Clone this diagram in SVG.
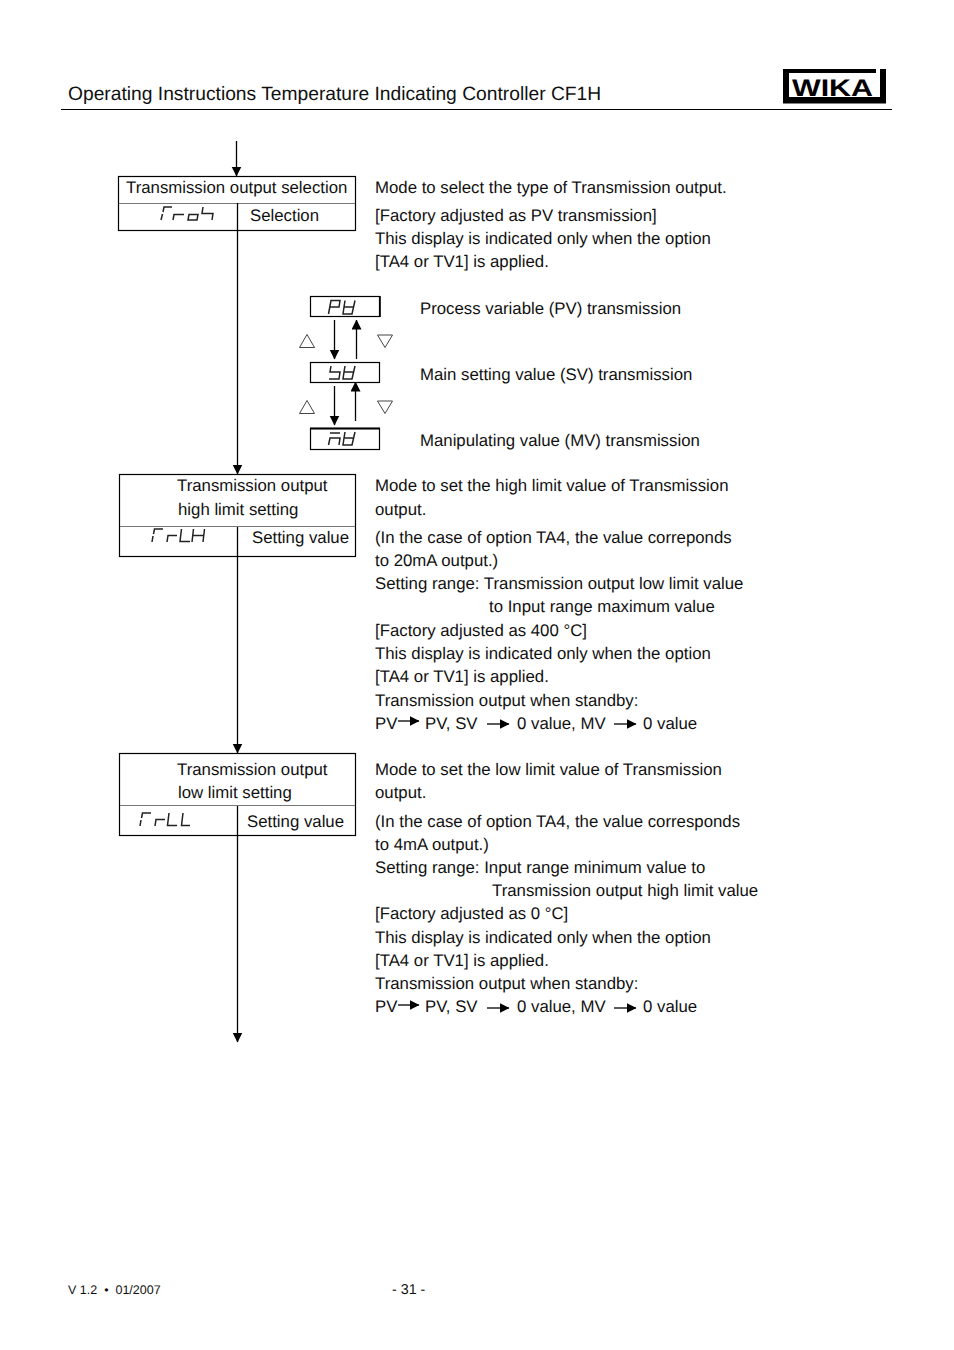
<svg xmlns="http://www.w3.org/2000/svg" width="954" height="1350" viewBox="0 0 954 1350">
<style>
text{font-family:"Liberation Sans",Arial,sans-serif;font-size:16.8px;fill:#111;text-rendering:geometricPrecision;white-space:pre}
.t{font-size:19.24px}
.s{font-size:12.500px}
.box{fill:none;stroke:#000;stroke-width:1.2}
.div{fill:none;stroke:#777;stroke-width:1.2}
.ln{fill:none;stroke:#000;stroke-width:1.3}
.seg{fill:none;stroke:#222;stroke-width:1.5}
.tri{fill:#fff;stroke:#444;stroke-width:1}
</style>
<defs>
<marker id="a" markerUnits="userSpaceOnUse" markerWidth="10" markerHeight="11" refX="9.500" refY="5" orient="auto"><path d="M0 0L10 5L0 10Z" fill="#000"/></marker>
</defs>
<rect width="954" height="1350" fill="#fff"/>
<g id="header">
<text class="t" x="68" y="100">Operating Instructions Temperature Indicating Controller CF1H</text>
<path d="M61 109.500H892" stroke="#000" stroke-width="1" fill="none"/>
</g>
<g id="logo">
<path fill="#000" fill-rule="evenodd" d="M783 69H886V103.500H783ZM789 73V97H876V73Z"/>
<rect x="876" y="69" width="4" height="28" fill="#fff"/>
<text x="792" y="96" style="font-size:24px;font-weight:bold;fill:#000" textLength="81" lengthAdjust="spacingAndGlyphs">WIKA</text>
</g>
<g id="connectors">
<path class="ln" marker-end="url(#a)" d="M236.500 141V176"/>
<path class="ln" marker-end="url(#a)" d="M237.500 231V474"/>
<path class="ln" marker-end="url(#a)" d="M237.500 557V753"/>
<path class="ln" marker-end="url(#a)" d="M237.500 836V1042"/>
<path class="ln" marker-end="url(#a)" d="M334.500 320V359"/>
<path class="ln" marker-end="url(#a)" d="M356.500 359V320"/>
<path class="ln" marker-end="url(#a)" d="M334.500 386V425"/>
<path class="ln" marker-end="url(#a)" d="M355.500 421V382"/>
<path class="ln" marker-end="url(#a)" d="M398 721H419"/>
<path class="ln" marker-end="url(#a)" d="M487 724H509"/>
<path class="ln" marker-end="url(#a)" d="M614 724H636"/>
<path class="ln" marker-end="url(#a)" d="M398 1005H419"/>
<path class="ln" marker-end="url(#a)" d="M487 1008H509"/>
<path class="ln" marker-end="url(#a)" d="M614 1008H636"/>
</g>
<g id="node-selection">
<rect class="box" x="118.500" y="176.500" width="237" height="54"/>
<path class="div" d="M119 203.500H355"/>
<path class="ln" d="M237.500 203V231"/>
<text x="126" y="193">Transmission output selection</text>
<text x="250" y="221">Selection</text>
<path class="seg" d="M161 220L162.500 214M163 212L164 207H172M173 220L174 214.500H184M188 220L189 214.500H198L197 220ZM203 207L202 213.500H213L212 220"/>
</g>
<g id="node-high">
<rect class="box" x="119.500" y="474.500" width="236" height="82"/>
<path class="div" d="M120 526.500H355"/>
<path class="ln" d="M237.500 527V557"/>
<text x="177" y="491">Transmission output</text>
<text x="178" y="515">high limit setting</text>
<text x="252" y="543">Setting value</text>
<path class="seg" d="M152 542L153 536M153.500 534L154.500 529H163M167 542L168 535.500H177M181.500 529L180 541.500H190M193.500 529L192 542M192.500 535.500H203.500M204.500 529L203 542"/>
</g>
<g id="node-low">
<rect class="box" x="119.500" y="753.500" width="236" height="82"/>
<path class="div" d="M120 805.500H355"/>
<path class="ln" d="M237.500 806V836"/>
<text x="177" y="775">Transmission output</text>
<text x="178" y="798">low limit setting</text>
<text x="247" y="827">Setting value</text>
<path class="seg" d="M140 826L141 820M141.500 818L142.500 813H151M155 826L156 819.500H165M169 813L167.500 825.500H177M183 813L181.500 825.500H190"/>
</g>
<g id="display-pv">
<rect class="box" x="310.500" y="296.500" width="69" height="20"/>
<path d="M380 296V317" stroke="#000" stroke-width="1.600"/>
<path class="seg" d="M328.500 314L331 300.500H340L339 307H330M345 300.500L344 307L343 314H352L355 300.500M344 307H354"/>
</g>
<g id="display-sv">
<rect class="box" x="310.500" y="362.500" width="69" height="20"/>
<path class="seg" d="M331 366L330 372H340L339 379H329M345 366L344 372L343 379H352L355 366M344 372H354"/>
</g>
<g id="display-mv">
<rect class="box" x="310.500" y="428.500" width="69" height="21"/>
<path d="M310 428.500H380" stroke="#000" stroke-width="1.800"/>
<path class="seg" d="M330 433H340M328.500 445L330 438H340L339 445M345 432L344 438L343 445H352L355 432M344 438H354"/>
</g>
<g id="keys">
<path class="tri" d="M307 334.500L314.500 347.500H299.500Z"/>
<path class="tri" d="M377.500 335H392.500L385 347.500Z"/>
<path class="tri" d="M307 400.500L314.500 413.500H299.500Z"/>
<path class="tri" d="M377.500 401H392.500L385 413.500Z"/>
</g>
<g id="labels-selection">
<text x="375" y="193">Mode to select the type of Transmission output.</text>
<text x="375" y="221">[Factory adjusted as PV transmission]</text>
<text x="375" y="244">This display is indicated only when the option</text>
<text x="375" y="267">[TA4 or TV1] is applied.</text>
<text x="420" y="314">Process variable (PV) transmission</text>
<text x="420" y="380">Main setting value (SV) transmission</text>
<text x="420" y="446">Manipulating value (MV) transmission</text>
</g>
<g id="labels-high">
<text x="375" y="491">Mode to set the high limit value of Transmission</text>
<text x="375" y="515">output.</text>
<text x="375" y="543">(In the case of option TA4, the value correponds</text>
<text x="375" y="566">to 20mA output.)</text>
<text x="375" y="589">Setting range: Transmission output low limit value</text>
<text x="489" y="612">to Input range maximum value</text>
<text x="375" y="636">[Factory adjusted as 400 °C]</text>
<text x="375" y="659">This display is indicated only when the option</text>
<text x="375" y="682">[TA4 or TV1] is applied.</text>
<text x="375" y="706">Transmission output when standby:</text>
<text x="375" y="729">PV</text><text x="425" y="729">PV, SV</text><text x="517" y="729">0 value, MV</text><text x="643" y="729">0 value</text>
</g>
<g id="labels-low">
<text x="375" y="775">Mode to set the low limit value of Transmission</text>
<text x="375" y="798">output.</text>
<text x="375" y="827">(In the case of option TA4, the value corresponds</text>
<text x="375" y="850">to 4mA output.)</text>
<text x="375" y="873">Setting range: Input range minimum value to</text>
<text x="492" y="896">Transmission output high limit value</text>
<text x="375" y="919">[Factory adjusted as 0 °C]</text>
<text x="375" y="943">This display is indicated only when the option</text>
<text x="375" y="966">[TA4 or TV1] is applied.</text>
<text x="375" y="989">Transmission output when standby:</text>
<text x="375" y="1012">PV</text><text x="425" y="1012">PV, SV</text><text x="517" y="1012">0 value, MV</text><text x="643" y="1012">0 value</text>
</g>
<g id="footer">
<text class="s" x="68" y="1294">V 1.2  •  01/2007</text>
<text x="392" y="1294" style="font-size:14.300px">- 31 -</text>
</g>
</svg>
